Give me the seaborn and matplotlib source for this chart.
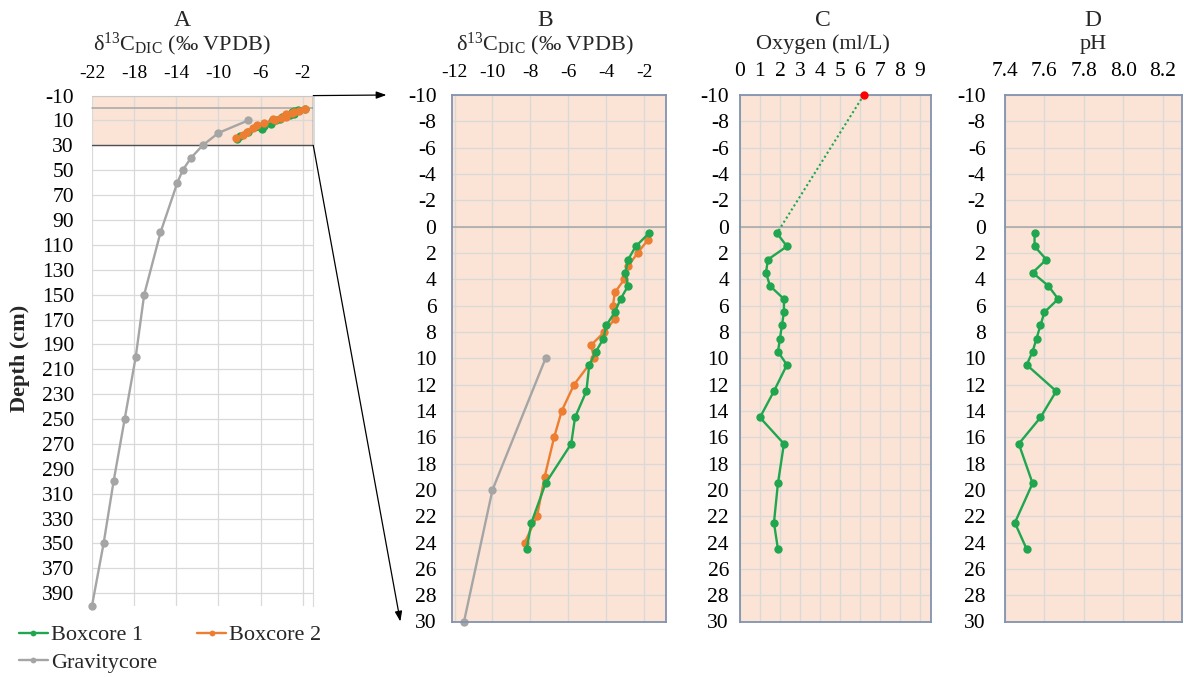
import numpy as np
import matplotlib
matplotlib.use("Agg")
import matplotlib.pyplot as plt
from matplotlib.patches import ConnectionPatch, Rectangle
import seaborn as sns

# ---- data -------------------------------------------------------------
# Boxcore 1: depth (cm) and d13C-DIC (permil VPDB)
bc1_depth = [0.5, 1.5, 2.5, 3.5, 4.5, 5.5, 6.5, 7.5, 8.5, 9.5, 10.5,
             12.5, 14.5, 16.5, 19.5, 22.5, 24.5]
bc1_d13c = [-1.75, -2.45, -2.85, -3.0, -2.85, -3.25, -3.55, -4.0, -4.15,
            -4.55, -4.9, -5.05, -5.65, -5.85, -7.2, -7.95, -8.2]

# Boxcore 2
bc2_depth = [1, 2, 3, 4, 5, 6, 7, 8, 9, 10, 12, 14, 16, 19, 22, 24]
bc2_d13c = [-1.8, -2.35, -2.85, -3.05, -3.55, -3.65, -3.55, -4.1, -4.8,
            -4.65, -5.7, -6.35, -6.75, -7.25, -7.65, -8.3]

# Gravity core
gc_depth = [10, 20, 30, 40, 50, 60, 100, 150, 200, 250, 300, 350, 400]
gc_d13c = [-7.2, -10.0, -11.5, -12.6, -13.4, -13.9, -15.5, -17.05,
           -17.85, -18.9, -19.95, -20.9, -22.0]

# Pore-water oxygen and pH (Boxcore 1 depths)
o2_depth = bc1_depth
o2_ml_l = [1.85, 2.35, 1.4, 1.3, 1.5, 2.2, 2.2, 2.1, 2.0, 1.9, 2.35,
           1.7, 1.0, 2.2, 1.9, 1.7, 1.9]
bottom_water_depth = [-10]
bottom_water_o2 = [6.2]

ph_depth = bc1_depth
ph_values = [7.55, 7.55, 7.61, 7.54, 7.62, 7.67, 7.60, 7.58, 7.56, 7.54,
             7.51, 7.66, 7.58, 7.47, 7.54, 7.45, 7.51]

# axis tick labels
a_xticks = [-22, -18, -14, -10, -6, -2]
a_yticks = list(range(-10, 400, 20))
b_xticks = [-12, -10, -8, -6, -4, -2]
c_xticks = list(range(0, 10))
d_xticks = [7.4, 7.6, 7.8, 8.0, 8.2]
zoom_yticks = list(range(-10, 31, 2))
zoom_max_depth = 30

# ---- style ------------------------------------------------------------
sns.set_style("white")
plt.rcParams["font.family"] = ["Liberation Serif", "DejaVu Serif"]
plt.rcParams["mathtext.fontset"] = "custom"
plt.rcParams["mathtext.rm"] = "Liberation Serif"
plt.rcParams["mathtext.it"] = "Liberation Serif:italic"
plt.rcParams["axes.unicode_minus"] = False

GREEN = "#1FA64F"
ORANGE = "#ED7D31"
GRAY = "#A5A5A5"
PEACH = "#FBE4D5"
GRID = "#D9D9D9"
ZERO = "#A6A6A6"
FRAME = "#8293AE"
YTICK_FS = 15.5
LBL_FS = 16

W, H = 1184, 677
fig = plt.figure(figsize=(W / 100, H / 100), dpi=100)


def px_axes(left, top, right, bottom):
    return fig.add_axes([left / W, 1 - bottom / H, (right - left) / W, (bottom - top) / H])


axA = px_axes(92, 95.6, 313.3, 605.7)
axB = px_axes(451.7, 95, 665.7, 621.5)
axC = px_axes(740, 95, 930.7, 621.5)
axD = px_axes(1005, 95, 1182.3, 621.5)

line_kw = dict(sort=False, estimator=None, marker="o", markersize=6,
               markeredgewidth=0, linewidth=1.7)


def style_axis(ax, xlim, ylim, xticks, yticks, ypad, xfs, xfmt=None):
    ax.set_xlim(*xlim)
    ax.set_ylim(*ylim)
    ax.xaxis.tick_top()
    ax.set_xticks(xticks)
    if xfmt:
        ax.set_xticklabels([xfmt.format(v) for v in xticks])
    ax.set_yticks(yticks)
    ax.tick_params(axis="x", length=0, pad=10, labelsize=xfs, colors="black")
    ax.tick_params(axis="y", length=0, pad=ypad, labelsize=YTICK_FS, colors="black")
    ax.grid(True, color=GRID, linewidth=0.9)
    ax.set_axisbelow(True)
    ax.set_xlabel("")
    ax.set_ylabel("")
    ax.axhline(0, color=ZERO, linewidth=1.1, zorder=1)


# ---- panel A: full gravity core profile ---------------------------------
style_axis(axA, (-22, -1), (400, -10), a_xticks, a_yticks, ypad=13, xfs=14)
for s in axA.spines.values():
    s.set_visible(False)
axA.spines["right"].set_visible(True)
axA.spines["right"].set_color(GRID)
axA.add_patch(Rectangle((-22, -10), 21, 40, facecolor=PEACH, edgecolor="none", zorder=0.2))
axA.plot([-22, -1, -1], [30, 30, -10], color="#505050", linewidth=1.0, zorder=1.5)
axA.plot([-22, -1], [-10, -10], color="#C8C8C8", linewidth=0.8, zorder=1.5)

sns.lineplot(x=gc_d13c, y=gc_depth, color=GRAY, label="Gravitycore", ax=axA, **line_kw)
sns.lineplot(x=bc1_d13c, y=bc1_depth, color=GREEN, label="Boxcore 1", ax=axA, **line_kw)
sns.lineplot(x=bc2_d13c, y=bc2_depth, color=ORANGE, label="Boxcore 2", ax=axA, **line_kw)
handles, labels = axA.get_legend_handles_labels()
axA.get_legend().remove()
for ln in axA.lines:
    ln.set_clip_on(False)

# ---- panel B: top 30 cm close-up ---------------------------------------
style_axis(axB, (-12.15, -0.87), (30, -10), b_xticks, zoom_yticks, ypad=11, xfs=14)
axB.set_facecolor(PEACH)
gc_d = np.asarray(gc_depth)
gc_v = np.asarray(gc_d13c)
in_window = gc_d <= zoom_max_depth
sns.lineplot(x=gc_v[in_window], y=gc_d[in_window], color=GRAY, ax=axB, **line_kw)
sns.lineplot(x=bc2_d13c, y=bc2_depth, color=ORANGE, ax=axB, **line_kw)
sns.lineplot(x=bc1_d13c, y=bc1_depth, color=GREEN, ax=axB, **line_kw)

# ---- panel C: oxygen ----------------------------------------------------
style_axis(axC, (0, 9.55), (30, -10), c_xticks, zoom_yticks, ypad=8, xfs=15.5)
axC.set_facecolor(PEACH)
sns.lineplot(x=[bottom_water_o2[0], o2_ml_l[0]], y=[bottom_water_depth[0], o2_depth[0]],
             sort=False, estimator=None, color=GREEN, linestyle=(0, (1, 1.3)),
             linewidth=1.5, ax=axC)
sns.lineplot(x=o2_ml_l, y=o2_depth, color=GREEN, ax=axC, **line_kw)
sns.scatterplot(x=bottom_water_o2, y=bottom_water_depth, color="#FF0000", s=36,
                linewidth=0, ax=axC, zorder=6, clip_on=False)

# ---- panel D: pH --------------------------------------------------------
style_axis(axD, (7.4, 8.3), (30, -10), d_xticks, zoom_yticks, ypad=14, xfs=15.5,
           xfmt="{:.1f}")
axD.set_facecolor(PEACH)
sns.lineplot(x=ph_values, y=ph_depth, color=GREEN, ax=axD, **line_kw)

for ax in (axB, axC, axD):
    for s in ax.spines.values():
        s.set_visible(True)
        s.set_color(FRAME)
        s.set_linewidth(1.3)
    for ln in ax.lines:
        ln.set_clip_on(False)

# ---- headings -----------------------------------------------------------
d13c_label = r"δ$^{13}$C$_{\mathrm{DIC}}$ (‰ VPDB)"
heads = [
    (182, "A", d13c_label),
    (545, "B", d13c_label),
    (823, "C", "Oxygen (ml/L)"),
    (1093, "D", "pH"),
]
for xp, letter, unit in heads:
    fig.text(xp / W, 1 - 21 / H, letter, ha="center", va="center", fontsize=17)
    fig.text(xp / W, 1 - 44 / H, unit, ha="center", va="center", fontsize=LBL_FS)

fig.text(20 / W, 1 - 358 / H, "Depth (cm)", rotation=90, ha="center", va="center",
         fontsize=16, fontweight="bold")

# ---- connector arrows from the shaded window to panel B --------------------
arrow_kw = dict(arrowstyle="-|>,head_length=0.5,head_width=0.18", color="black",
                linewidth=0.9, mutation_scale=12)
fig.add_artist(ConnectionPatch(xyA=(-1, -10), coordsA=axA.transData,
                               xyB=(-0.305, 1.0), coordsB=axB.transAxes, **arrow_kw))
fig.add_artist(ConnectionPatch(xyA=(-1, 30), coordsA=axA.transData,
                               xyB=(-0.24, 0.0), coordsB=axB.transAxes, **arrow_kw))

# ---- legend -------------------------------------------------------------
order = [labels.index("Boxcore 1"), labels.index("Gravitycore"), labels.index("Boxcore 2")]
fig.legend([handles[i] for i in order], [labels[i] for i in order],
           loc="upper left", bbox_to_anchor=(10 / W, 1 - 616 / H), ncol=2,
           frameon=False, fontsize=16, handlelength=1.3, handletextpad=0.15,
           columnspacing=1.8, labelspacing=0.3, markerscale=0.7, borderaxespad=0)

fig.savefig("out.png", dpi=100)
